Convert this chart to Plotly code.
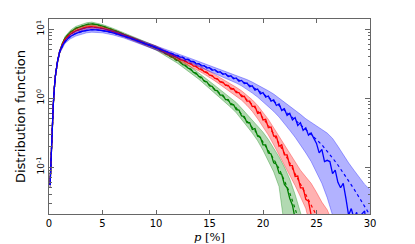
import plotly.graph_objects as go

# ---------------- data ----------------
body_p = [0.1, 0.2, 0.3, 0.4, 0.5, 0.6, 0.8, 1.0, 1.25, 1.5, 1.75, 2.0, 2.5, 3.0, 3.5, 4.0,
          4.5, 5.0, 5.5, 6.0, 6.5, 7.0, 7.5, 8.0, 8.5, 9.0, 9.5, 10.0, 10.5, 11.0, 11.5, 12.0]

green_body = [0.055, 0.16, 0.38, 0.8, 1.4, 2.1, 3.4, 4.7, 6.2, 7.4, 8.2, 9.0, 10.2, 11.0, 11.6, 11.9,
              11.6, 11.0, 10.4, 9.7, 9.1, 8.4, 7.85, 7.2, 6.75, 6.15, 5.75, 5.3, 4.85, 4.3, 3.95, 3.5]
red_body = [0.055, 0.16, 0.38, 0.8, 1.4, 2.1, 3.4, 4.7, 6.0, 7.0, 7.7, 8.4, 9.4, 10.1, 10.6, 10.8,
            10.6, 10.2, 9.75, 9.2, 8.7, 8.1, 7.65, 7.05, 6.65, 6.1, 5.8, 5.35, 4.95, 4.5, 4.2, 3.85]
blue_body = [0.055, 0.16, 0.38, 0.8, 1.4, 2.1, 3.4, 4.7, 5.8, 6.6, 7.2, 7.8, 8.6, 9.2, 9.6, 9.8,
             9.7, 9.5, 9.2, 8.8, 8.4, 7.9, 7.45, 6.95, 6.6, 6.1, 5.8, 5.4, 5.1, 4.75, 4.45, 4.15]

tail_start = 12.25
tail_step = 0.25
green_tail = [3.35, 3.05, 2.98, 2.7, 2.62, 2.35, 2.3, 2.05, 2.0, 1.75, 1.72, 1.5, 1.48, 1.3, 1.27,
              1.1, 1.1, 0.95, 0.95, 0.8, 0.8, 0.68, 0.67, 0.55, 0.54, 0.44, 0.44, 0.35, 0.36,
              0.28, 0.27, 0.21, 0.21, 0.16, 0.155, 0.115, 0.11, 0.082, 0.078, 0.056, 0.05,
              0.035, 0.028, 0.018]
red_tail = [3.6, 3.5, 3.45, 3.2, 3.15, 2.9, 2.9, 2.65, 2.62, 2.4, 2.38, 2.15, 2.12, 1.92, 1.9,
            1.7, 1.7, 1.52, 1.52, 1.35, 1.36, 1.2, 1.2, 1.05, 1.06, 0.9, 0.9, 0.75, 0.76, 0.6,
            0.62, 0.48, 0.49, 0.37, 0.38, 0.28, 0.28, 0.2, 0.21, 0.15, 0.15, 0.105, 0.105,
            0.073, 0.074, 0.05, 0.05, 0.034, 0.032, 0.02]
blue_tail = [3.9, 3.9, 3.62, 3.65, 3.38, 3.4, 3.12, 3.15, 2.92, 2.95, 2.72, 2.75, 2.52, 2.58,
             2.36, 2.4, 2.2, 2.25, 2.05, 2.1, 1.9, 1.95, 1.75, 1.8, 1.62, 1.65, 1.46, 1.5, 1.3,
             1.35, 1.15, 1.2, 1.03, 1.07, 0.9, 0.94, 0.78, 0.82, 0.66, 0.7, 0.56, 0.6, 0.48,
             0.52, 0.4, 0.44, 0.34, 0.37, 0.29, 0.31, 0.26, 0.22, 0.16, 0.18, 0.12, 0.125,
             0.12, 0.08, 0.09, 0.06, 0.05, 0.058, 0.035, 0.02, 0.025, 0.018, 0.022, 0.015,
             0.021, 0.023, 0.01]

# smooth fit (dotted) and band edges
band_p = [0.1, 0.2, 0.3, 0.4, 0.5, 0.6, 0.8, 1.0, 1.5, 2.0, 2.5, 3.0, 3.5, 4.0, 5.0, 6.0, 7.0,
          8.0, 9.0, 10.0, 11.0, 12.0, 12.5, 13.0, 13.5, 14.0, 14.5, 15.0, 15.5, 16.0, 16.5,
          17.0, 17.5, 18.0, 18.5, 19.0, 19.5, 20.0, 20.5, 21.0, 21.5, 22.0, 22.5, 23.0, 23.5,
          24.0, 24.5, 25.0, 25.5, 26.0, 26.5, 27.0, 27.5, 28.0, 28.5, 29.0, 29.5, 30.0]

green_fit = [0.055, 0.16, 0.38, 0.8, 1.4, 2.1, 3.4, 4.7, 7.4, 9.0, 10.2, 11.0, 11.6, 11.9, 11.0,
             9.7, 8.4, 7.2, 6.15, 5.3, 4.3, 3.5,
             3.1, 2.75, 2.4, 2.1, 1.8, 1.55, 1.33, 1.15, 1.0, 0.85, 0.72, 0.58, 0.47, 0.38,
             0.3, 0.23, 0.175, 0.13, 0.095, 0.065, 0.042, 0.025, 0.014]
green_lo = [0.05, 0.15, 0.36, 0.76, 1.33, 2.0, 3.25, 4.45, 7.0, 8.4, 9.5, 10.3, 10.9, 11.2, 10.4,
            9.2, 7.95, 6.8, 5.8, 4.95, 4.0, 3.2,
            2.8, 2.47, 2.15, 1.87, 1.6, 1.37, 1.17, 1.0, 0.86, 0.73, 0.61, 0.48, 0.39, 0.31,
            0.24, 0.175, 0.125, 0.085, 0.052, 0.018, 0.005, 0.001, 0.001]
green_hi = [0.06, 0.17, 0.4, 0.84, 1.47, 2.2, 3.55, 4.95, 7.8, 9.6, 10.9, 11.7, 12.3, 12.6, 11.6,
            10.2, 8.85, 7.6, 6.5, 5.65, 4.6, 3.8,
            3.4, 3.03, 2.66, 2.33, 2.02, 1.75, 1.52, 1.32, 1.15, 1.0, 0.86, 0.71, 0.58, 0.48,
            0.4, 0.32, 0.25, 0.19, 0.14, 0.1, 0.067, 0.04, 0.023, 0.012]

red_fit = [0.055, 0.16, 0.38, 0.8, 1.4, 2.1, 3.4, 4.7, 7.0, 8.4, 9.4, 10.1, 10.6, 10.8, 10.2,
           9.2, 8.1, 7.05, 6.1, 5.35, 4.5, 3.85,
           3.55, 3.25, 2.97, 2.7, 2.45, 2.2, 1.97, 1.75, 1.57, 1.4, 1.25, 1.1, 0.95, 0.8, 0.65,
           0.52, 0.4, 0.3, 0.22, 0.16, 0.115, 0.08, 0.057, 0.04, 0.028, 0.02, 0.014]
red_lo = [0.05, 0.15, 0.36, 0.76, 1.33, 2.0, 3.25, 4.45, 6.6, 7.8, 8.7, 9.4, 9.9, 10.1, 9.6,
          8.7, 7.65, 6.65, 5.75, 5.0, 4.2, 3.55,
          3.25, 2.98, 2.72, 2.47, 2.22, 2.0, 1.77, 1.56, 1.38, 1.22, 1.07, 0.93, 0.78, 0.64,
          0.5, 0.38, 0.29, 0.21, 0.15, 0.11, 0.078, 0.054, 0.037, 0.025, 0.012, 0.003, 0.001]
red_hi = [0.06, 0.17, 0.4, 0.84, 1.47, 2.2, 3.55, 4.95, 7.4, 9.0, 10.1, 10.8, 11.3, 11.5, 10.8,
          9.7, 8.55, 7.45, 6.45, 5.7, 4.8, 4.15,
          3.85, 3.55, 3.25, 2.97, 2.7, 2.45, 2.2, 1.97, 1.78, 1.6, 1.43, 1.27, 1.1, 0.94, 0.78,
          0.62, 0.49, 0.37, 0.28, 0.21, 0.155, 0.118, 0.09, 0.072, 0.058, 0.043, 0.031, 0.024,
          0.016]

blue_fit = [0.055, 0.16, 0.38, 0.8, 1.4, 2.1, 3.4, 4.7, 6.6, 7.8, 8.6, 9.2, 9.6, 9.8, 9.5, 8.8,
            7.9, 6.95, 6.1, 5.4, 4.75, 4.15,
            3.87, 3.6, 3.35, 3.1, 2.9, 2.7, 2.52, 2.35, 2.2, 2.05, 1.9, 1.75, 1.6, 1.45, 1.3,
            1.15, 1.03, 0.9, 0.78, 0.66, 0.56, 0.48, 0.41, 0.35, 0.3, 0.25, 0.21, 0.17, 0.135,
            0.107, 0.083, 0.064, 0.048, 0.036, 0.027, 0.02]
blue_lo = [0.05, 0.15, 0.36, 0.76, 1.33, 2.0, 3.25, 4.45, 6.2, 7.2, 7.9, 8.4, 8.8, 9.0, 8.8, 8.2,
           7.4, 6.5, 5.7, 5.05, 4.4, 3.85,
           3.6, 3.33, 3.08, 2.85, 2.64, 2.45, 2.27, 2.1, 1.95, 1.8, 1.65, 1.5, 1.34, 1.18, 1.03,
           0.88, 0.76, 0.64, 0.53, 0.43, 0.34, 0.27, 0.21, 0.16, 0.12, 0.085, 0.058, 0.036,
           0.02, 0.008, 0.002, 0.001, 0.001, 0.001, 0.001, 0.001]
blue_hi = [0.06, 0.17, 0.4, 0.84, 1.47, 2.2, 3.55, 4.95, 7.0, 8.4, 9.3, 10.0, 10.4, 10.6, 10.2,
           9.4, 8.4, 7.4, 6.5, 5.75, 5.1, 4.45,
           4.15, 3.88, 3.62, 3.38, 3.16, 2.96, 2.78, 2.6, 2.45, 2.3, 2.15, 2.0, 1.85, 1.7, 1.55,
           1.4, 1.27, 1.14, 1.0, 0.88, 0.77, 0.67, 0.58, 0.5, 0.44, 0.39, 0.35, 0.31, 0.26, 0.2,
           0.15, 0.115, 0.09, 0.07, 0.056, 0.047]

x_ticks = [0, 5, 10, 15, 20, 25, 30]
y_ticks = [0.1, 1, 10]
y_tick_labels = ["10<sup>-1</sup>", "10<sup>0</sup>", "10<sup>1</sup>"]
y_minor_ticks = [0.03, 0.04, 0.05, 0.06, 0.07, 0.08, 0.09,
                 0.2, 0.3, 0.4, 0.5, 0.6, 0.7, 0.8, 0.9,
                 2, 3, 4, 5, 6, 7, 8, 9]

series = [
    ("green", green_body, green_tail, green_fit, green_lo, green_hi, "rgb(0,128,0)", "rgba(0,128,0,0.3)"),
    ("red", red_body, red_tail, red_fit, red_lo, red_hi, "rgb(255,0,0)", "rgba(255,0,0,0.3)"),
    ("blue", blue_body, blue_tail, blue_fit, blue_lo, blue_hi, "rgb(0,0,255)", "rgba(0,0,255,0.3)"),
]

fig = go.Figure()
for name, body, tail, fit, lo, hi, col, fcol in series:
    tail_p = [round(tail_start + tail_step * i, 2) for i in range(len(tail))]
    px = body_p + tail_p
    py = body + tail
    edge = fcol.replace("0.3)", "0.55)")
    fig.add_trace(go.Scatter(x=band_p[:len(lo)], y=lo, mode="lines",
                             line=dict(color=edge, width=0.6),
                             showlegend=False, hoverinfo="skip"))
    fig.add_trace(go.Scatter(x=band_p[:len(hi)], y=hi, mode="lines",
                             line=dict(color=edge, width=0.6),
                             fill="tonexty", fillcolor=fcol, showlegend=False, hoverinfo="skip"))
    fig.add_trace(go.Scatter(x=px, y=py, mode="lines", line=dict(color=col, width=1.3),
                             showlegend=False))
    fig.add_trace(go.Scatter(x=band_p[:len(fit)], y=fit, mode="lines",
                             line=dict(color=col, width=1.2, dash="dot"), showlegend=False))

axis_col = "#666666"
fig.update_layout(
    width=415, height=244,
    margin=dict(l=49, r=45, t=19, b=30),
    paper_bgcolor="white", plot_bgcolor="white",
    font=dict(family="DejaVu Sans", size=10, color="black"),
    showlegend=False,
    annotations=[dict(text="<i>p</i> [%]", xref="paper", yref="paper", x=0.5, y=-0.118,
                      xanchor="center", yanchor="middle", showarrow=False,
                      font=dict(size=11.5, family="DejaVu Serif", color="black"))],
)
fig.update_xaxes(
    range=[0, 30], tickvals=x_ticks, ticks="inside", ticklen=4, tickcolor=axis_col,
    showline=True, linecolor=axis_col, linewidth=1, mirror="ticks", showgrid=False,
    zeroline=False, tickfont=dict(size=10), automargin=False,
)
fig.update_yaxes(
    type="log", range=[-1.681, 1.145], tickvals=y_ticks, ticktext=y_tick_labels,
    ticks="inside", ticklen=5, tickcolor=axis_col, tickangle=-90,
    minor=dict(tickvals=y_minor_ticks, ticks="inside", ticklen=2.5, tickcolor=axis_col,
               showgrid=False),
    showline=True, linecolor=axis_col, linewidth=1, mirror="ticks", showgrid=False,
    zeroline=False, tickfont=dict(size=9), automargin=False,
    title=dict(text="Distribution function", font=dict(size=13), standoff=6),
)

fig.write_html("out.html", config={"displayModeBar": False},
               post_script="document.body.style.margin='0px';document.body.style.overflow='hidden';")
